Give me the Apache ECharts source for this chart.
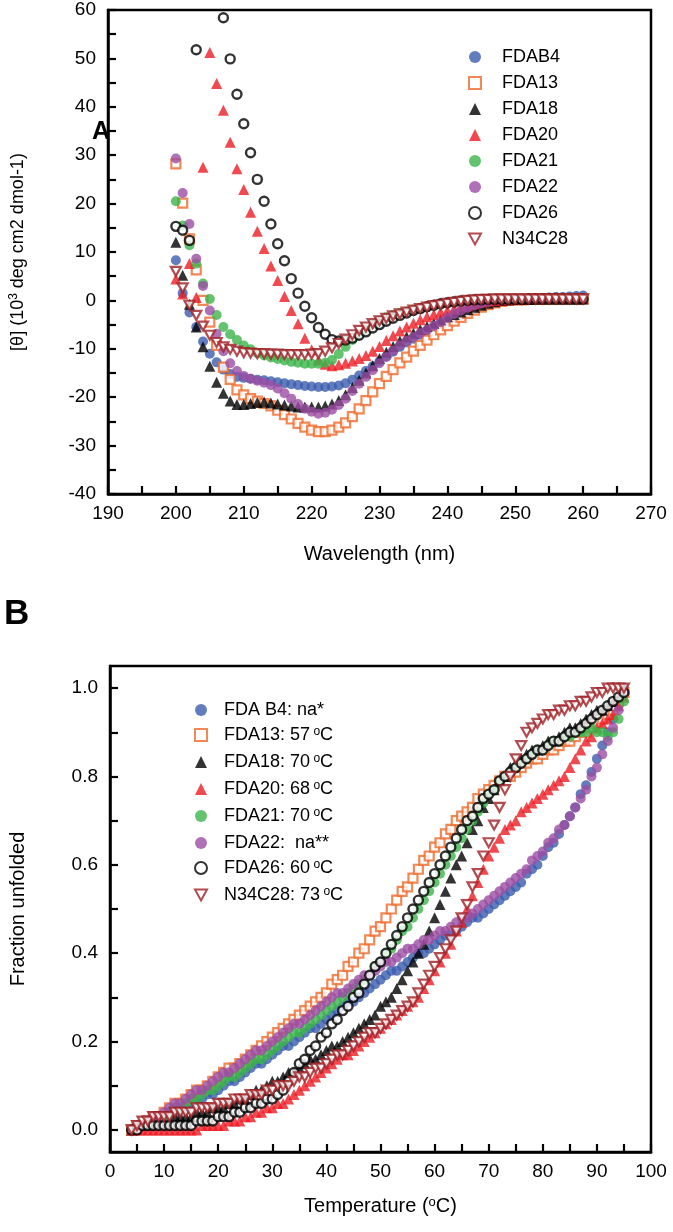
<!DOCTYPE html>
<html>
<head>
<meta charset="utf-8">
<script src="https://cdn.jsdelivr.net/npm/echarts@6/dist/echarts.min.js"></script>
<style>
html,body{margin:0;padding:0;background:#fff;}
#chart{width:673px;height:1232px;}
</style>
</head>
<body>
<div id="chart"></div>
<script>
// ---------- Panel A: CD spectra ----------
const wavelength = [200,201,202,203,204,205,206,207,208,209,210,211,212,213,214,215,216,217,218,219,220,221,222,223,224,225,226,227,228,229,230,231,232,233,234,235,236,237,238,239,240,241,242,243,244,245,246,247,248,249,250,251,252,253,254,255,256,257,258,259,260];
const cdFDAB4 = [8.3,1.5,-2.5,-5.5,-8.5,-11,-12.8,-14.3,-15.2,-15.8,-16,-16.2,-16.4,-16.5,-16.7,-16.9,-17.1,-17.3,-17.5,-17.7,-17.8,-17.9,-17.9,-17.8,-17.6,-17.1,-16.4,-15.5,-14.6,-13.6,-12.6,-11.6,-10.6,-9.6,-8.7,-7.9,-7.1,-6.3,-5.6,-4.9,-4.2,-3.6,-3,-2.4,-1.8,-1.3,-0.9,-0.5,-0.2,0,0.2,0.3,0.4,0.5,0.5,0.6,0.7,0.7,0.8,0.9,1.0];
const cdFDA13 = [28.2,20.1,12.7,6.3,0,-4.5,-9.3,-13.8,-16.3,-18.5,-19.5,-20.3,-20.8,-21.3,-21.8,-22.7,-23.6,-24.5,-25.4,-26.2,-26.8,-27.1,-27.1,-26.8,-26.2,-25.3,-24,-22.4,-20.7,-18.9,-17.2,-15.7,-14.3,-12.9,-11.7,-10.5,-9.3,-8.2,-7.1,-6.1,-5.2,-4.3,-3.5,-2.7,-2,-1.4,-0.9,-0.5,-0.2,0,0.1,0.1,0.2,0.2,0.2,0.3,0.3,0.3,0.3,0.3,0.3];
const cdFDA18 = [12,5.2,-0.8,-5.5,-9.6,-13.6,-16.9,-19.2,-20.8,-21.5,-21.5,-21.3,-21.1,-21,-21.2,-21.4,-21.6,-21.8,-22,-22,-22,-22,-21.8,-21.4,-20.7,-19.5,-18,-16.5,-15,-13.5,-12,-10.7,-9.5,-8.4,-7.5,-6.8,-6,-5.4,-4.7,-4,-3.4,-2.9,-2.4,-1.9,-1.4,-1,-0.6,-0.3,0,0.1,0.2,0.2,0.2,0.3,0.3,0.3,0.3,0.3,0.3,0.3,0.3];
const cdFDA20 = [4.4,1.3,7.6,0.6,27.5,51.2,44.8,39.3,32.7,27.2,22.9,18.2,14.3,10.7,7.1,4.1,0.8,-2.1,-4.8,-7.8,-10.2,-12.3,-13.2,-13.5,-13.3,-13,-12.5,-12,-11.4,-10.5,-9.5,-8.3,-7.3,-6.3,-5.5,-4.7,-4,-3.4,-2.9,-2.4,-2.1,-1.7,-1.3,-1,-0.7,-0.4,-0.2,0,0.1,0.2,0.3,0.3,0.4,0.4,0.4,0.5,0.5,0.5,0.5,0.5,0.5];
const cdFDA21 = [20.5,15.5,11.4,7.6,3.5,0.3,-3,-5.5,-7,-8.2,-9.3,-10.1,-10.9,-11.4,-11.8,-12.1,-12.4,-12.7,-12.9,-13.1,-13.1,-13.1,-12.9,-12.3,-11.1,-9.6,-8.2,-7.1,-6,-5,-4.2,-3.5,-3,-2.6,-2.3,-2,-1.7,-1.4,-1.1,-0.8,-0.5,-0.2,0,0.1,0.2,0.2,0.3,0.3,0.3,0.3,0.3,0.3,0.4,0.4,0.4,0.4,0.4,0.4,0.4,0.4,0.4];
const cdFDA22 = [29.3,22.2,15.8,8.6,3,-2.1,-6.9,-10.5,-13,-14.6,-15.6,-16.2,-16.6,-17,-17.5,-18.2,-19.2,-20.3,-21.4,-22.4,-23,-23.4,-23.2,-22.6,-21.6,-20.3,-18.7,-17.2,-15.8,-14.4,-13,-11.7,-10.4,-9.3,-8.4,-7.6,-6.8,-6.1,-5.3,-4.5,-3.6,-2.8,-2.1,-1.5,-1,-0.6,-0.3,0,0.1,0.2,0.2,0.3,0.3,0.3,0.3,0.3,0.3,0.3,0.3,0.3,0.3];
const cdFDA26 = [15.3,14.5,12.4,51.8,null,null,null,58.4,49.9,42.6,36.5,30.5,25,20.5,15.8,11.7,8.2,4.5,1.5,-1.2,-3.6,-5.6,-7,-8.1,-8.4,-8.2,-7.8,-7.2,-6.5,-5.7,-5,-4.3,-3.7,-3.1,-2.6,-2.1,-1.7,-1.3,-1,-0.7,-0.5,-0.3,-0.1,0,0.1,0.1,0.2,0.2,0.2,0.2,0.2,0.2,0.3,0.3,0.3,0.3,0.3,0.3,0.3,0.3,0.3];
const cdN34C28 = [6,2.6,-1,-3.1,-5.3,-7.2,-8.7,-9.6,-10.1,-10.5,-10.8,-10.9,-11,-11,-11.1,-11.1,-11.2,-11.2,-11.2,-11.2,-11.1,-11,-10.5,-9.8,-8.9,-8,-7.1,-6.2,-5.5,-4.8,-4.2,-3.7,-3.2,-2.8,-2.4,-2,-1.7,-1.4,-1.1,-0.9,-0.6,-0.4,-0.2,0,0.1,0.2,0.2,0.3,0.3,0.3,0.3,0.3,0.3,0.3,0.3,0.3,0.3,0.3,0.3,0.3,0.3];
const namesA = ['FDAB4','FDA13','FDA18','FDA20','FDA21','FDA22','FDA26','N34C28'];

// ---------- Panel B: thermal unfolding ----------
const temperature = [4,5,6,7,8,9,10,11,12,13,14,15,16,17,18,19,20,21,22,23,24,25,26,27,28,29,30,31,32,33,34,35,36,37,38,39,40,41,42,43,44,45,46,47,48,49,50,51,52,53,54,55,56,57,58,59,60,61,62,63,64,65,66,67,68,69,70,71,72,73,74,75,76,77,78,79,80,81,82,83,84,85,86,87,88,89,90,91,92,93,94,95];
const fuFDAB4 = [0.00,0.01,0.01,0.02,0.02,0.03,0.03,0.04,0.04,0.05,0.05,0.06,0.07,0.07,0.08,0.08,0.09,0.10,0.11,0.11,0.12,0.13,0.14,0.15,0.15,0.16,0.17,0.18,0.19,0.19,0.20,0.21,0.22,0.23,0.23,0.24,0.25,0.26,0.27,0.28,0.29,0.29,0.30,0.31,0.32,0.33,0.34,0.35,0.36,0.36,0.37,0.38,0.39,0.40,0.40,0.41,0.42,0.43,0.44,0.44,0.45,0.46,0.47,0.48,0.48,0.49,0.50,0.51,0.52,0.53,0.54,0.55,0.56,0.58,0.59,0.60,0.62,0.64,0.65,0.67,0.69,0.71,0.73,0.76,0.78,0.81,0.84,0.87,0.90,0.93,0.96,1.00];
const fuFDA13 = [0.00,0.01,0.01,0.02,0.03,0.03,0.04,0.05,0.06,0.06,0.07,0.08,0.09,0.09,0.10,0.11,0.12,0.13,0.14,0.14,0.15,0.16,0.17,0.18,0.19,0.20,0.21,0.22,0.23,0.24,0.25,0.26,0.27,0.28,0.29,0.30,0.31,0.33,0.34,0.35,0.37,0.38,0.40,0.41,0.43,0.45,0.46,0.48,0.50,0.52,0.54,0.55,0.57,0.59,0.61,0.62,0.64,0.65,0.67,0.68,0.70,0.71,0.72,0.73,0.75,0.76,0.77,0.78,0.79,0.80,0.80,0.81,0.82,0.83,0.84,0.84,0.85,0.86,0.86,0.87,0.88,0.88,0.89,0.90,0.90,0.91,0.92,0.93,0.94,0.95,0.97,0.99];
const fuFDA18 = [0.00,0.01,0.01,0.01,0.02,0.02,0.02,0.02,0.03,0.03,0.03,0.03,0.04,0.04,0.04,0.05,0.05,0.05,0.06,0.06,0.07,0.07,0.08,0.09,0.09,0.10,0.11,0.11,0.12,0.13,0.13,0.14,0.15,0.16,0.16,0.17,0.18,0.19,0.19,0.20,0.21,0.22,0.23,0.24,0.25,0.26,0.28,0.29,0.30,0.32,0.34,0.36,0.38,0.40,0.42,0.45,0.48,0.51,0.54,0.57,0.60,0.62,0.65,0.68,0.70,0.73,0.75,0.77,0.79,0.80,0.82,0.83,0.84,0.85,0.86,0.86,0.87,0.88,0.88,0.89,0.90,0.91,0.91,0.92,0.93,0.94,0.95,0.95,0.96,0.97,0.98,1.00];
const fuFDA20 = [0.00,0.00,0.00,0.00,0.00,0.00,0.00,0.00,0.00,0.00,0.00,0.00,0.00,0.01,0.01,0.01,0.01,0.01,0.02,0.02,0.02,0.03,0.03,0.04,0.04,0.05,0.05,0.06,0.06,0.07,0.08,0.09,0.10,0.11,0.12,0.13,0.14,0.15,0.16,0.17,0.17,0.18,0.19,0.20,0.21,0.22,0.23,0.24,0.25,0.26,0.27,0.28,0.29,0.30,0.32,0.34,0.36,0.38,0.40,0.42,0.45,0.47,0.50,0.53,0.56,0.59,0.62,0.64,0.66,0.68,0.69,0.70,0.72,0.73,0.74,0.75,0.76,0.77,0.78,0.79,0.80,0.82,0.84,0.86,0.88,0.89,0.91,0.92,0.93,0.94,0.96,0.98];
const fuFDA21 = [0.00,0.01,0.01,0.02,0.02,0.03,0.03,0.04,0.05,0.05,0.06,0.07,0.07,0.08,0.09,0.09,0.10,0.11,0.12,0.12,0.13,0.14,0.15,0.16,0.16,0.17,0.18,0.19,0.20,0.21,0.22,0.22,0.23,0.24,0.25,0.26,0.27,0.28,0.29,0.30,0.31,0.32,0.33,0.34,0.35,0.37,0.38,0.40,0.41,0.43,0.45,0.46,0.48,0.50,0.52,0.54,0.56,0.58,0.60,0.62,0.64,0.66,0.68,0.70,0.72,0.74,0.76,0.77,0.79,0.80,0.81,0.82,0.83,0.84,0.85,0.86,0.86,0.87,0.88,0.88,0.89,0.89,0.90,0.90,0.90,0.91,0.90,0.90,0.89,0.90,0.93,0.97];
const fuFDA22 = [0.00,0.01,0.01,0.02,0.03,0.03,0.04,0.05,0.06,0.06,0.07,0.08,0.09,0.09,0.10,0.11,0.12,0.13,0.13,0.14,0.15,0.16,0.17,0.18,0.18,0.19,0.20,0.21,0.22,0.23,0.24,0.24,0.25,0.26,0.27,0.28,0.29,0.30,0.31,0.31,0.32,0.33,0.34,0.35,0.35,0.36,0.37,0.38,0.38,0.39,0.40,0.41,0.41,0.42,0.43,0.43,0.44,0.45,0.45,0.46,0.47,0.48,0.48,0.49,0.50,0.51,0.52,0.53,0.54,0.55,0.56,0.57,0.58,0.59,0.61,0.62,0.63,0.65,0.66,0.68,0.69,0.71,0.73,0.75,0.77,0.80,0.82,0.85,0.88,0.91,0.95,0.99];
const fuFDA26 = [0.00,0.00,0.01,0.01,0.01,0.01,0.01,0.01,0.01,0.01,0.01,0.01,0.02,0.02,0.02,0.02,0.03,0.03,0.03,0.04,0.04,0.05,0.05,0.06,0.06,0.07,0.07,0.08,0.09,0.11,0.13,0.15,0.16,0.18,0.19,0.21,0.22,0.24,0.25,0.27,0.28,0.30,0.31,0.33,0.35,0.37,0.38,0.40,0.42,0.44,0.46,0.48,0.50,0.52,0.54,0.56,0.58,0.60,0.62,0.64,0.66,0.68,0.70,0.71,0.73,0.75,0.76,0.77,0.79,0.80,0.81,0.82,0.83,0.84,0.85,0.86,0.86,0.87,0.88,0.88,0.89,0.90,0.90,0.91,0.92,0.93,0.94,0.95,0.96,0.97,0.98,0.99];
const fuN34C28 = [0.00,0.01,0.02,0.02,0.03,0.03,0.03,0.03,0.04,0.04,0.04,0.04,0.05,0.05,0.05,0.05,0.06,0.06,0.06,0.07,0.07,0.07,0.08,0.08,0.08,0.09,0.09,0.10,0.10,0.10,0.11,0.12,0.12,0.13,0.14,0.14,0.15,0.16,0.17,0.17,0.18,0.19,0.20,0.21,0.22,0.22,0.23,0.24,0.25,0.26,0.27,0.28,0.29,0.31,0.33,0.35,0.37,0.39,0.41,0.43,0.45,0.48,0.51,0.55,0.58,0.62,0.65,0.69,0.73,0.77,0.80,0.84,0.87,0.90,0.91,0.92,0.93,0.94,0.94,0.95,0.95,0.96,0.96,0.97,0.97,0.98,0.99,0.99,1.00,1.00,1.00,1.00];
const namesB = ['FDA B4: na*','FDA13: 57 °C','FDA18: 70 °C','FDA20: 68 °C','FDA21: 70 °C','FDA22:  na**','FDA26: 60 °C','N34C28: 73 °C'];

const ticksA_X = [190,200,210,220,230,240,250,260,270];
const ticksA_Y = [-40,-30,-20,-10,0,10,20,30,40,50,60];
const ticksB_X = [0,10,20,30,40,50,60,70,80,90,100];
const ticksB_Y = [0.0,0.2,0.4,0.6,0.8,1.0];

// ---------- styles ----------
const FONT = '"Liberation Sans", Arial, sans-serif';
const styles = [
  {symbol:'circle', size:10, itemStyle:{color:'#3a5dae'}},
  {symbol:'rect', size:9, itemStyle:{color:'#ffffff', borderColor:'#ef6a2b', borderWidth:2.2}},
  {symbol:'triangle', size:11, itemStyle:{color:'#000000'}},
  {symbol:'triangle', size:11, itemStyle:{color:'#ec1c24'}},
  {symbol:'circle', size:10, itemStyle:{color:'#3cb44b'}},
  {symbol:'circle', size:10, itemStyle:{color:'#9b4da3'}},
  {symbol:'circle', size:9, itemStyle:{color:'#ffffff', borderColor:'#000000', borderWidth:2.4}},
  {symbol:'path://M0,0L10,0L5,9Z', size:10, itemStyle:{color:'#ffffff', borderColor:'#9e1f24', borderWidth:2.2}}
];
const cdData = [cdFDAB4,cdFDA13,cdFDA18,cdFDA20,cdFDA21,cdFDA22,cdFDA26,cdN34C28];
const fuData = [fuFDAB4,fuFDA13,fuFDA18,fuFDA20,fuFDA21,fuFDA22,fuFDA26,fuN34C28];

function pairs(xs, ys){
  const out = [];
  for (let i=0;i<xs.length;i++){ if (ys[i]!==null && ys[i]!==undefined) out.push([xs[i], ys[i]]); }
  return out;
}

const series = [];
namesA.forEach((n,i)=>{
  series.push({type:'scatter', name:n, xAxisIndex:0, yAxisIndex:0, data:pairs(wavelength, cdData[i]),
    symbol:styles[i].symbol, symbolSize:styles[i].size, symbolKeepAspect:true, itemStyle:styles[i].itemStyle, clip:true, z:2+i,
    emphasis:{disabled:true}});
});
namesB.forEach((n,i)=>{
  series.push({type:'scatter', name:n, xAxisIndex:1, yAxisIndex:1, data:pairs(temperature, fuData[i]),
    symbol:styles[i].symbol, symbolSize:styles[i].size, symbolKeepAspect:true, itemStyle:styles[i].itemStyle, clip:true, z:2+i,
    emphasis:{disabled:true}});
});

const axisLine = {show:true, onZero:false, lineStyle:{color:'#000', width:2.5}};
const axisTick = {show:true, inside:true, length:8, lineStyle:{color:'#000', width:2.2}};
const minorTick = {show:true, splitNumber:2, length:8, lineStyle:{color:'#000', width:2.2}};
const axisLabelBase = {color:'#000', fontSize:19, fontFamily:FONT};
const supStyle = {fontSize:12, verticalAlign:'top', lineHeight:12, padding:[0,0,8,0], fontFamily:FONT};

const chart = echarts.init(document.getElementById('chart'), null, {renderer:'canvas'});
chart.setOption({
  animation:false,
  backgroundColor:'#fff',
  textStyle:{fontFamily:FONT},
  grid:[
    {left:103, top:10, width:548, height:484, show:true, borderColor:'#000', borderWidth:2.5},
    {left:103, top:666, width:548, height:486, show:true, borderColor:'#000', borderWidth:2.5}
  ],
  xAxis:[
    {type:'value', gridIndex:0, min:190, max:270, interval:10, axisLine, axisTick, minorTick,
     splitLine:{show:false}, axisLabel:Object.assign({margin:10, customValues:ticksA_X}, axisLabelBase),
     name:'Wavelength (nm)', nameLocation:'middle', nameGap:50,
     nameTextStyle:{color:'#000', fontSize:20, fontFamily:FONT}},
    {type:'value', gridIndex:1, min:0, max:100, interval:10, axisLine, axisTick, minorTick,
     splitLine:{show:false}, axisLabel:Object.assign({margin:10, customValues:ticksB_X}, axisLabelBase),
     name:'Temperature ({sup|o}C)', nameLocation:'middle', nameGap:44,
     nameTextStyle:{color:'#000', fontSize:20, fontFamily:FONT,
       rich:{sup:{fontSize:13, verticalAlign:'top', lineHeight:13, padding:[0,0,10,0], fontFamily:FONT}}}}
  ],
  yAxis:[
    {type:'value', gridIndex:0, min:-40, max:60, interval:10, axisLine, axisTick, minorTick,
     splitLine:{show:false}, axisLabel:Object.assign({margin:12, customValues:ticksA_Y}, axisLabelBase),
     name:'[θ] (10{sup|3} deg cm2 dmol-1)', nameLocation:'middle', nameGap:80, nameRotate:90,
     nameTextStyle:{color:'#000', fontSize:18, fontFamily:FONT,
       rich:{sup:{fontSize:12, verticalAlign:'top', padding:[0,0,8,0], fontFamily:FONT}}}},
    {type:'value', gridIndex:1, min:-0.05, max:1.05, axisLine,
     axisTick:Object.assign({customValues:[0,0.1,0.2,0.3,0.4,0.5,0.6,0.7,0.8,0.9,1.0]}, axisTick),
     minorTick:{show:false},
     splitLine:{show:false},
     axisLabel:Object.assign({margin:12, customValues:ticksB_Y, formatter:(v)=>v.toFixed(1)}, axisLabelBase),
     name:'Fraction unfolded', nameLocation:'middle', nameGap:82, nameRotate:90,
     nameTextStyle:{color:'#000', fontSize:20, fontFamily:FONT}}
  ],
  legend:[
    {data:namesA, orient:'vertical', left:463, top:43, itemWidth:12, itemHeight:12, itemGap:8,
     selectedMode:false, formatter:(n)=>'{g|}'+n,
     textStyle:{color:'#000', fontSize:18, fontFamily:FONT, lineHeight:18,
       rich:{g:{width:16}}}},
    {data:namesB, orient:'vertical', left:189, top:696, itemWidth:12, itemHeight:12, itemGap:7,
     selectedMode:false, formatter:(n)=>'{g|}'+n.replace(/ °C/, '{sup| o}C'),
     textStyle:{color:'#000', fontSize:18, fontFamily:FONT, lineHeight:18,
       rich:{g:{width:12}, sup:supStyle}}}
  ],
  graphic:[
    {type:'text', left:92, top:120, z:100, style:{text:'A', font:'bold 25px '+FONT, fill:'#000'}},
    {type:'text', left:4, top:597, z:100, style:{text:'B', font:'bold 35px '+FONT, fill:'#000'}}
  ],
  series
});
</script>
</body>
</html>
